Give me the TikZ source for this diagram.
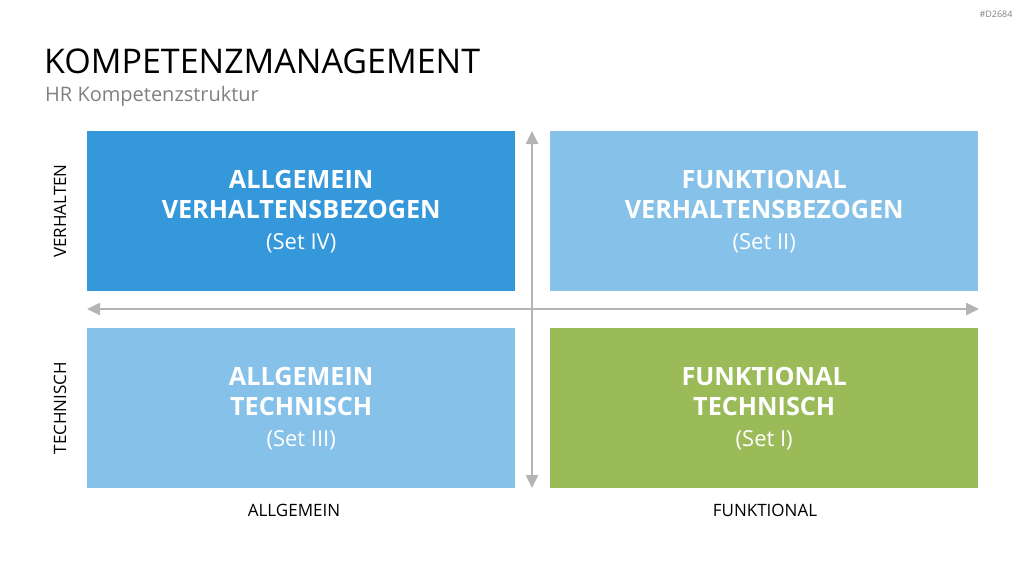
\documentclass[tikz,border=0pt]{standalone}
\usepackage{fontspec}
\setmainfont{Open Sans}
\usetikzlibrary{arrows.meta}
\definecolor{dblue}{RGB}{52,152,219}
\definecolor{lblue}{RGB}{133,193,233}
\definecolor{lgreen}{RGB}{155,187,89}
\definecolor{axisgray}{RGB}{180,180,180}
\definecolor{subgray}{RGB}{128,128,128}
\begin{document}
\begin{tikzpicture}[x=1pt,y=-1pt,
  quad/.style={draw=none,minimum width=428pt,minimum height=160pt,anchor=north west,inner sep=0pt,
    text=white,align=center,font=\fontsize{25.2}{30.5}\selectfont},
  axislbl/.style={font=\fontsize{17}{20}\selectfont,text=black},
  axisarrow/.style={draw=axisgray,line width=2.5pt,{Triangle[length=13pt,width=12pt]}-{Triangle[length=13pt,width=12pt]},shorten <=0pt,shorten >=0pt}]
\useasboundingbox (0,0) rectangle (1024,576);
\node[anchor=north east,font=\fontsize{9}{10}\selectfont,text=subgray] (code) at (1016,7) {\#D2684};
\node[anchor=base west,inner sep=0pt,font=\fontsize{34}{40}\selectfont] (title) at (44,73) {KOMPETENZMANAGEMENT};
\node[anchor=base west,inner sep=0pt,font=\fontsize{20}{24}\selectfont,text=subgray] (sub) at (45,101) {HR Kompetenzstruktur};
\node[quad,fill=dblue] (tl) at (87,131) {\textbf{ALLGEMEIN}\\\textbf{VERHALTENSBEZOGEN}\\{\fontsize{22}{28}\selectfont(Set IV)}};
\node[quad,fill=lblue] (tr) at (550,131) {\textbf{FUNKTIONAL}\\\textbf{VERHALTENSBEZOGEN}\\{\fontsize{22}{28}\selectfont(Set II)}};
\node[quad,fill=lblue] (bl) at (87,328) {\textbf{ALLGEMEIN}\\\textbf{TECHNISCH}\\{\fontsize{22}{28}\selectfont(Set III)}};
\node[quad,fill=lgreen] (br) at (550,328) {\textbf{FUNKTIONAL}\\\textbf{TECHNISCH}\\{\fontsize{22}{28}\selectfont(Set I)}};
\coordinate (vt) at (532,131);
\coordinate (vb) at (532,488);
\coordinate (hl) at (87,309);
\coordinate (hr) at (979,309);
\draw[axisarrow] (vb) -- (vt);
\draw[axisarrow] (hl) -- (hr);
\node[axislbl,rotate=90] (lv) at (60,211) {VERHALTEN};
\node[axislbl,rotate=90] (lt) at (60,408) {TECHNISCH};
\node[axislbl] (la) at (294,510) {ALLGEMEIN};
\node[axislbl] (lf) at (765,510) {FUNKTIONAL};
\end{tikzpicture}
\end{document}
